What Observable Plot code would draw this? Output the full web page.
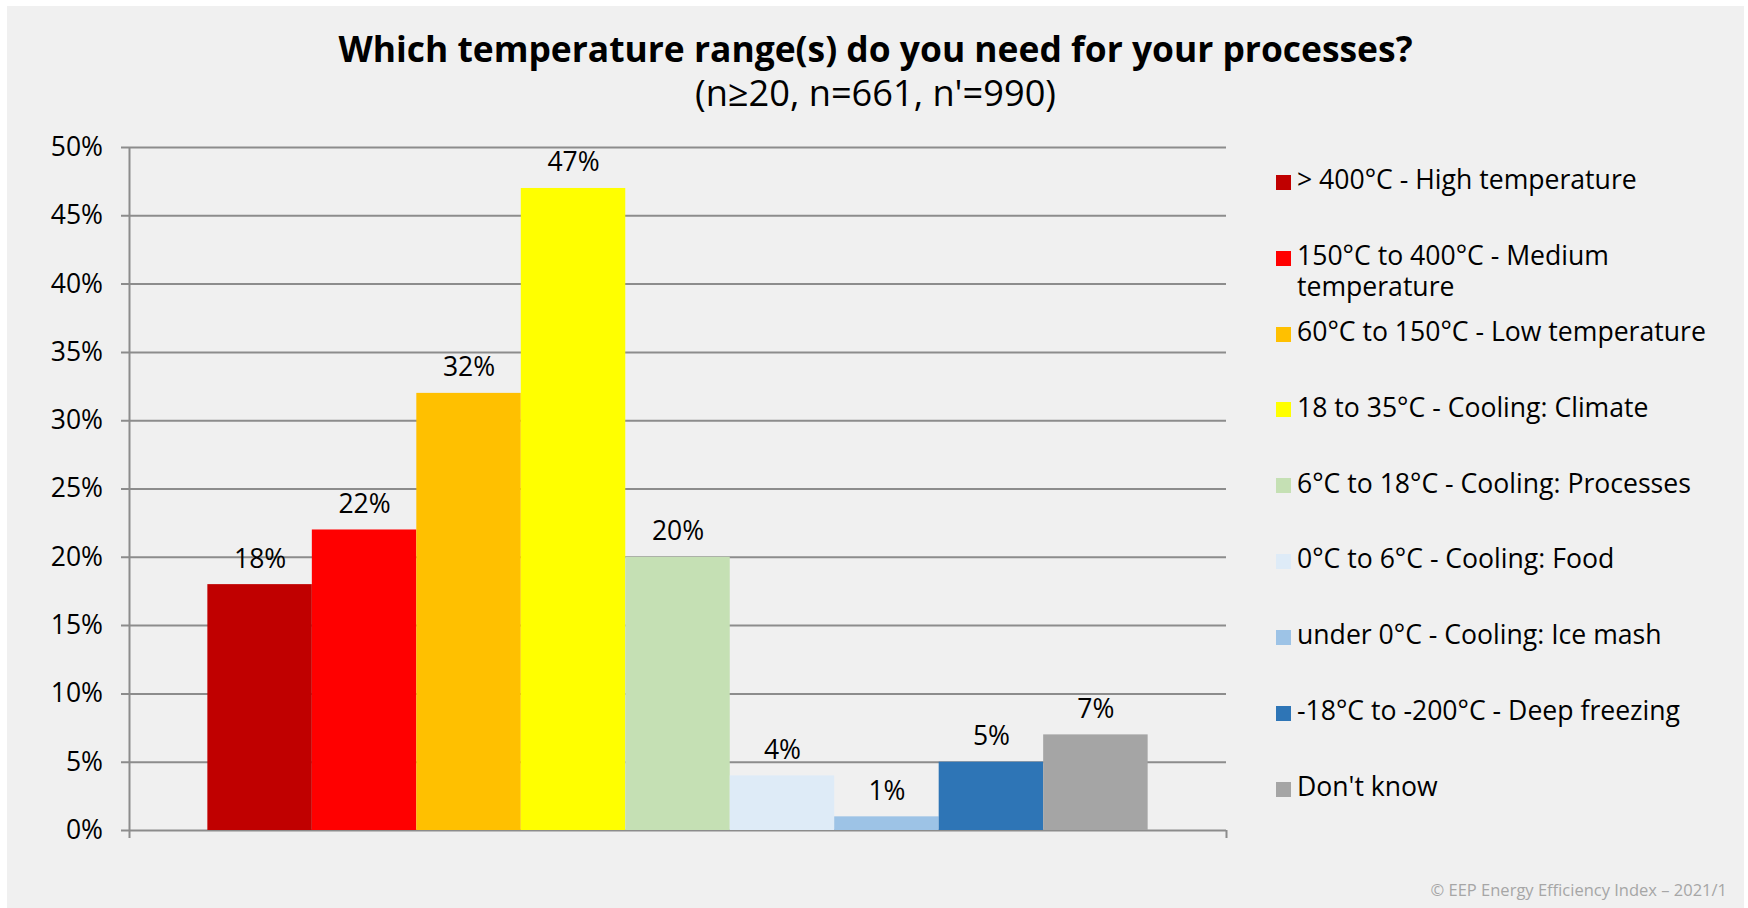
<!DOCTYPE html>
<html>
<head>
<meta charset="utf-8">
<script src="https://cdn.jsdelivr.net/npm/d3@7"></script>
<script src="https://cdn.jsdelivr.net/npm/@observablehq/plot@0.6"></script>
<style>
  body { margin: 0; background: #fff; width: 1748px; height: 908px; position: relative; overflow: hidden;
         font-family: "Open Sans", "Noto Sans", sans-serif; color: #000; }
  #panel { position: absolute; left: 7px; top: 6px; width: 1737px; height: 902px; background: #f0f0f0; }
  .head { position: absolute; left: 7px; width: 1737px; text-align: center; line-height: 1; white-space: nowrap; }
  #title { top: 31.4px; font-size: 35.4px; font-weight: 700; }
  #subtitle { top: 74px; font-size: 36.2px; font-weight: 400; }
  #chart { position: absolute; left: 0; top: 0; }
  #legend { position: absolute; left: 1276px; top: 164px; width: 440px; }
  .item { position: relative; height: 75.9px; }
  .swatch { position: absolute; left: 0; top: 10.8px; width: 15px; height: 15px; }
  .label { position: absolute; left: 21px; top: 0; width: 420px; font-size: 26.6px; line-height: 31px; }
  #caption { position: absolute; right: 21px; top: 879px; font-size: 16.5px; line-height: 1.362; color: #a6a6a6; white-space: nowrap; }
</style>
</head>
<body>
<div id="panel"></div>
<div id="title" class="head">Which temperature range(s) do you need for your processes?</div>
<div id="subtitle" class="head">(n≥20, n=661, n'=990)</div>
<div id="chart"></div>
<div id="legend"></div>
<div id="caption">© EEP Energy Efficiency Index – 2021/1</div>
<script>
// Temperature ranges, share of respondents (%) and series colours
const categories = [
  "> 400°C - High temperature",
  "150°C to 400°C - Medium temperature",
  "60°C to 150°C - Low temperature",
  "18 to 35°C - Cooling: Climate",
  "6°C to 18°C - Cooling: Processes",
  "0°C to 6°C - Cooling: Food",
  "under 0°C - Cooling: Ice mash",
  "-18°C to -200°C - Deep freezing",
  "Don't know"
];
const values = [18, 22, 32, 47, 20, 4, 1, 5, 7];
const colors = ["#c00000", "#ff0000", "#ffc000", "#ffff00", "#c5e0b4", "#deebf7", "#9dc3e6", "#2e75b6", "#a5a5a5"];
const yTicks = [0, 5, 10, 15, 20, 25, 30, 35, 40, 45, 50];

const data = categories.map((category, i) => ({category, value: values[i], i}));
const n = categories.length;
const pad = 0.75; // outer gap on each side, in bar widths
const gridColor = "#8c8c8c";

const chart = Plot.plot({
  width: 1240,
  height: 860,
  marginLeft: 129,
  marginRight: 14,
  marginTop: 147,
  marginBottom: 30,
  style: {background: "transparent", fontFamily: "'Open Sans', 'Noto Sans', sans-serif", fontSize: "26px", color: "#000", overflow: "visible"},
  x: {type: "linear", domain: [-pad, n + pad], axis: null},
  y: {domain: [0, 50], axis: null},
  color: {domain: categories, range: colors},
  marks: [
    Plot.ruleY(yTicks, {stroke: gridColor, strokeWidth: 2, insetLeft: -8}),
    Plot.rectY(data, {x1: "i", x2: d => d.i + 1, y: "value", fill: "category"}),
    Plot.ruleX([-pad], {stroke: gridColor, strokeWidth: 2, insetBottom: -8}),
    Plot.ruleX([n + pad], {y1: 0, y2: 0, stroke: gridColor, strokeWidth: 2, insetBottom: -8}),
    Plot.text(data, {x: d => d.i + 0.5, y: "value", text: d => `${d.value}%`, lineAnchor: "bottom", dy: -17, fill: "#000", fontSize: 26.5}),
    Plot.axisY(yTicks, {tickSize: 0, tickPadding: 26.5, tickFormat: d => `${d}%`, fontSize: 26.5, fill: "#000", label: null})
  ]
});
document.getElementById("chart").appendChild(chart);

// Legend, one entry per temperature range
const legend = d3.select("#legend");
const items = legend.selectAll(".item").data(data).join("div").attr("class", "item");
items.append("div").attr("class", "swatch").style("background", (d, i) => colors[i]);
items.append("div").attr("class", "label").text(d => d.category);
</script>
</body>
</html>
